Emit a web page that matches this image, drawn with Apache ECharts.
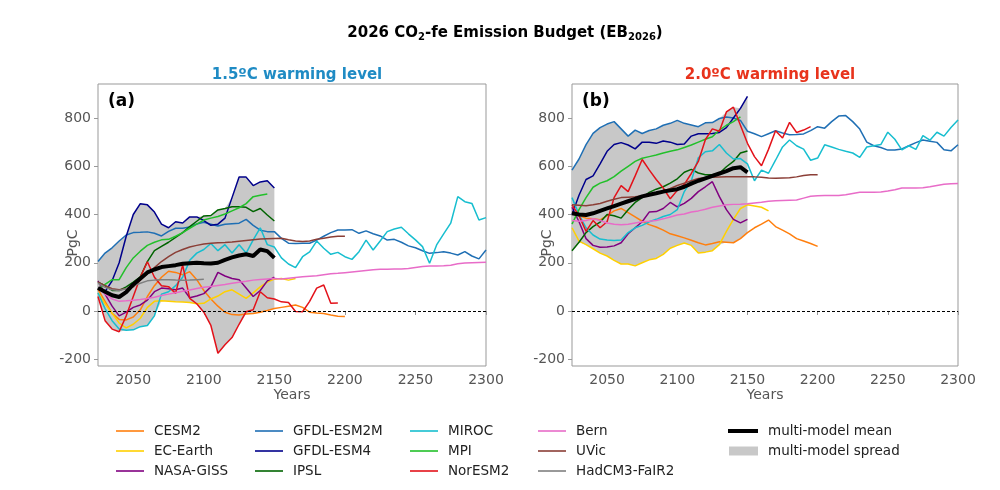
<!DOCTYPE html>
<html>
<head>
<meta charset="utf-8">
<script src="https://cdn.jsdelivr.net/npm/echarts@6/dist/echarts.min.js"></script>
<style>html,body{margin:0;padding:0;background:#fff}#c{width:1000px;height:490px}</style>
</head>
<body>
<div id="c"></div>
<script>
// ---- data (values every 5 years starting 2025) ----
const START_YEAR = 2025;
const STEP = 5;
const X_TICKS = [2050, 2100, 2150, 2200, 2250, 2300];
const Y_TICKS = [-200, 0, 200, 400, 600, 800];
const SPREAD_END = 2150;

// Panel (a): 1.5 ºC warming level
const A_CESM2 = [90,40,-10,-35,-37,-25,5,60,105,140,165,160,150,163,130,85,50,20,-5,-15,-17,-12,-10,-5,2,10,15,20,25,15,-5,-8,-10,-17,-22,-23];
const A_ECEARTH = [75,30,-10,-50,-70,-55,-30,15,40,42,40,38,37,35,30,32,50,62,80,88,70,52,75,100,120,132,135,128,135];
const A_NASAGISS = [125,70,20,-20,-5,15,25,45,80,95,92,88,95,55,62,72,100,160,145,135,130,95,60,85,125,140];
const A_ESM2M = [205,240,262,290,315,325,326,328,322,311,330,343,343,348,361,368,360,352,360,362,364,380,355,335,329,329,301,281,280,281,281,294,310,325,336,336,337,322,332,320,311,294,297,285,270,262,250,239,242,246,240,232,246,228,216,253];
const A_ESM4 = [95,80,125,200,310,400,445,440,410,360,345,370,365,390,390,375,355,360,385,470,555,555,520,535,540,510];
const A_IPSL = [120,105,85,85,100,120,142,205,250,268,285,305,325,350,372,394,396,419,425,432,432,430,412,425,398,373];
const A_MIROC = [75,10,-40,-75,-80,-78,-65,-60,-20,70,80,105,140,210,240,255,280,250,275,240,275,240,295,345,275,265,220,195,180,225,245,290,260,235,243,225,214,246,294,253,290,329,340,347,320,295,267,198,274,320,364,474,453,446,377,387];
const A_MPI = [90,110,130,130,180,220,248,272,285,295,297,310,325,343,360,377,385,392,402,415,428,445,474,480,485];
const A_NORESM2 = [60,-40,-75,-86,-20,60,140,204,140,105,101,73,191,52,30,-5,-60,-175,-140,-110,-55,-3,5,80,55,50,38,35,-2,-3,40,95,108,32,33];
const A_BERN = [95,70,50,40,42,45,48,52,57,64,70,76,82,87,93,98,102,106,110,115,119,123,128,131,133,135,133,136,139,142,144,146,150,154,156,159,162,165,168,171,173,173,174,174,176,180,184,187,187,188,190,196,199,200,201,202];
const A_UVIC = [120,105,92,88,92,100,128,155,180,205,225,243,255,265,272,278,281,283,284,286,289,292,295,298,300,301,302,295,290,288,290,297,302,307,310,310];
const A_HADCM3 = [115,98,88,85,92,105,115,125,128,130,130,128,127,128,130,132];
const A_MEAN = [95,80,65,58,78,110,135,160,172,182,186,190,196,198,200,198,197,200,212,222,230,235,228,255,248,220];

// Panel (b): 2.0 ºC warming level
const B_CESM2 = [410,395,385,382,378,395,415,425,408,390,372,358,348,335,320,312,303,293,283,274,280,287,285,283,300,325,345,360,377,350,335,320,300,290,280,268];
const B_ECEARTH = [345,290,275,258,240,228,210,195,195,187,200,212,218,235,260,272,282,272,240,244,250,275,330,380,425,440,435,430,415];
const B_NASAGISS = [430,370,300,272,264,265,270,283,320,345,370,410,412,425,450,432,446,467,495,515,536,474,420,380,365,380];
const B_ESM2M = [584,630,690,736,760,775,785,755,725,750,736,748,755,770,778,790,778,771,764,780,781,798,804,800,790,745,735,723,735,747,738,731,732,734,748,764,758,785,808,810,785,754,700,685,678,667,667,672,685,698,709,704,699,668,664,689];
const B_ESM4 = [400,480,545,560,610,662,690,698,688,672,700,700,695,705,700,690,692,725,735,735,736,740,760,800,840,890];
const B_IPSL = [250,285,325,350,368,400,395,385,420,450,470,492,505,515,530,548,575,587,572,565,565,571,598,620,655,663];
const B_MIROC = [470,400,345,315,298,294,292,294,325,345,355,370,380,392,400,420,495,540,635,660,664,690,655,630,632,610,540,584,571,625,680,709,685,671,625,634,689,680,670,662,655,637,680,685,690,741,712,668,685,670,727,708,741,725,761,792];
const B_MPI = [360,420,470,513,530,540,557,580,600,620,633,640,647,655,662,668,678,688,700,712,722,750,770,785,805];
const B_NORESM2 = [440,395,330,375,345,370,470,520,495,560,628,585,545,510,465,500,525,570,620,710,755,745,825,845,770,695,640,602,670,747,717,782,740,750,764];
const B_BERN = [375,372,375,382,375,365,360,358,360,365,370,372,375,382,390,398,402,410,415,422,430,435,440,442,443,445,448,451,455,457,458,459,460,468,476,478,479,479,479,482,487,492,492,492,493,497,503,510,510,510,511,515,520,525,527,529];
const B_UVIC = [440,438,436,440,446,455,463,470,472,474,477,481,488,497,508,520,530,540,549,552,554,555,556,557,557,557,556,554,551,550,551,552,556,562,565,565];
const B_MEAN = [405,400,398,405,415,425,435,445,455,465,475,482,488,495,500,505,515,528,540,550,560,570,580,592,596,575];

const COLORS = {
  'CESM2': '#ff7f0e',
  'EC-Earth': '#ffd000',
  'NASA-GISS': '#800080',
  'GFDL-ESM2M': '#1f6fb4',
  'GFDL-ESM4': '#00008b',
  'IPSL': '#006400',
  'MIROC': '#17becf',
  'MPI': '#22c02a',
  'NorESM2': '#e3121a',
  'Bern': '#e86cc8',
  'UVic': '#8b3e36',
  'HadCM3-FaIR2': '#808080'
};
const SPREAD_COLOR = '#c8c8c8';

const PANEL_A = [
  ['CESM2', A_CESM2], ['EC-Earth', A_ECEARTH], ['NASA-GISS', A_NASAGISS],
  ['GFDL-ESM2M', A_ESM2M], ['GFDL-ESM4', A_ESM4], ['IPSL', A_IPSL],
  ['MIROC', A_MIROC], ['MPI', A_MPI], ['NorESM2', A_NORESM2],
  ['Bern', A_BERN], ['UVic', A_UVIC], ['HadCM3-FaIR2', A_HADCM3]
];
const PANEL_B = [
  ['CESM2', B_CESM2], ['EC-Earth', B_ECEARTH], ['NASA-GISS', B_NASAGISS],
  ['GFDL-ESM2M', B_ESM2M], ['GFDL-ESM4', B_ESM4], ['IPSL', B_IPSL],
  ['MIROC', B_MIROC], ['MPI', B_MPI], ['NorESM2', B_NORESM2],
  ['Bern', B_BERN], ['UVic', B_UVIC]
];

// ---- build ----
const FONT = 'DejaVu Sans';
const yearOf = i => START_YEAR + STEP * i;
const pairs = vals => vals.map((v, i) => [yearOf(i), v]);

// multi-model spread = min/max envelope of the models up to SPREAD_END
function spread(models) {
  const lo = [], hi = [];
  for (let i = 0; yearOf(i) <= SPREAD_END; i++) {
    const vs = models.map(m => m[1][i]).filter(v => v !== undefined);
    lo.push([yearOf(i), Math.min(...vs)]);
    hi.push([yearOf(i), Math.max(...vs)]);
  }
  return { lo, hi };
}

const series = [];
function addPanel(p, models, mean) {
  const sp = spread(models);
  series.push({
    name: 'multi-model spread', type: 'custom', xAxisIndex: p, yAxisIndex: p,
    data: sp.hi, encode: { x: 0, y: 1 }, silent: true, z: 1,
    itemStyle: { color: SPREAD_COLOR }, color: SPREAD_COLOR,
    renderItem: (params, api) => {
      if (params.dataIndex !== 0) return null;
      const pts = sp.hi.map(q => api.coord(q)).concat(sp.lo.slice().reverse().map(q => api.coord(q)));
      return { type: 'polygon', shape: { points: pts }, style: { fill: SPREAD_COLOR } };
    }
  });
  series.push({
    name: 'zero', type: 'line', xAxisIndex: p, yAxisIndex: p, data: [], z: 2,
    markLine: {
      silent: true, symbol: 'none', label: { show: false },
      lineStyle: { color: '#000', width: 1, type: [3, 2] },
      data: [{ yAxis: 0 }]
    }
  });
  models.forEach(([name, vals]) => {
    series.push({
      name, type: 'line', xAxisIndex: p, yAxisIndex: p, data: pairs(vals),
      symbol: 'none', color: COLORS[name], lineStyle: { width: 1.5, color: COLORS[name] }, z: 3
    });
  });
  series.push({
    name: 'multi-model mean', type: 'line', xAxisIndex: p, yAxisIndex: p, data: pairs(mean),
    symbol: 'none', color: '#000', lineStyle: { width: 4, color: '#000' }, z: 4
  });
}
addPanel(0, PANEL_A, A_MEAN);
addPanel(1, PANEL_B, B_MEAN);

const tickColor = '#555';
function xAxis(i) {
  return {
    type: 'value', gridIndex: i, min: 2025, max: 2300,
    axisLine: { show: false },
    splitLine: { show: false },
    axisTick: { show: true, customValues: X_TICKS, length: 4, lineStyle: { color: '#999' } },
    axisLabel: { customValues: X_TICKS, formatter: v => String(v), fontSize: 14, color: tickColor, fontFamily: FONT, margin: 7 },
    name: 'Years', nameLocation: 'middle', nameGap: 22, nameMoveOverlap: false,
    nameTextStyle: { fontSize: 14, color: tickColor, fontFamily: FONT }
  };
}
function yAxis(i) {
  return {
    type: 'value', gridIndex: i, min: -228, max: 941,
    axisLine: { show: false },
    splitLine: { show: false },
    axisTick: { show: true, customValues: Y_TICKS, length: 4, lineStyle: { color: '#999' } },
    axisLabel: { customValues: Y_TICKS, formatter: v => String(v), fontSize: 14, color: tickColor, fontFamily: FONT, margin: 7 },
    name: 'PgC', nameLocation: 'middle', nameGap: 18, nameRotate: 90, nameMoveOverlap: false,
    nameTextStyle: { fontSize: 14, color: tickColor, fontFamily: FONT, padding: [0, 0, 0, -36] }
  };
}

const legendBase = {
  orient: 'vertical', top: 419, itemWidth: 28, itemHeight: 1.6, itemGap: 6, icon: 'rect',
  selectedMode: false,
  textStyle: { fontSize: 13.5, color: '#222', fontFamily: FONT, lineHeight: 14, padding: [0, 0, 0, 5] }
};
const legends = [
  Object.assign({}, legendBase, { left: 111, data: ['CESM2', 'EC-Earth', 'NASA-GISS'] }),
  Object.assign({}, legendBase, { left: 250, data: ['GFDL-ESM2M', 'GFDL-ESM4', 'IPSL'] }),
  Object.assign({}, legendBase, { left: 405, data: ['MIROC', 'MPI', 'NorESM2'] }),
  Object.assign({}, legendBase, { left: 533, data: ['Bern', 'UVic', 'HadCM3-FaIR2'] }),
  Object.assign({}, legendBase, { left: 723, itemWidth: 30, itemHeight: 4, data: ['multi-model mean'] }),
  Object.assign({}, legendBase, { left: 724, top: 439, itemWidth: 29, itemHeight: 9,
    data: [{ name: 'multi-model spread', icon: 'rect', itemStyle: { color: SPREAD_COLOR } }] })
];

const chart = echarts.init(document.getElementById('c'), null, { renderer: 'canvas' });
chart.setOption({
  backgroundColor: '#fff',
  animation: false,
  textStyle: { fontFamily: FONT },
  title: [
    {
      left: 500, top: 17, textAlign: 'center',
      text: '{t|2026 CO}{s|2}{t|-fe Emission Budget (EB}{s|2026}{t|)}',
      textStyle: {
        rich: {
          t: { fontSize: 15, fontWeight: 'bold', color: '#000', fontFamily: FONT, lineHeight: 22, verticalAlign: 'middle' },
          s: { fontSize: 10, fontWeight: 'bold', color: '#000', fontFamily: FONT, lineHeight: 22, verticalAlign: 'middle', padding: [9, 0, 0, 0] }
        }
      }
    },
    { left: 292, top: 63, textAlign: 'center', text: '1.5ºC warming level',
      textStyle: { fontSize: 15, fontWeight: 'bold', color: '#1f8bc4', fontFamily: FONT } },
    { left: 765, top: 63, textAlign: 'center', text: '2.0ºC warming level',
      textStyle: { fontSize: 15, fontWeight: 'bold', color: '#e8331c', fontFamily: FONT } },
    { left: 103, top: 88, text: '(a)', textStyle: { fontSize: 17, fontWeight: 'bold', color: '#000', fontFamily: FONT } },
    { left: 577, top: 88, text: '(b)', textStyle: { fontSize: 17, fontWeight: 'bold', color: '#000', fontFamily: FONT } }
  ],
  legend: legends,
  grid: [
    { left: 98, right: 514, top: 84, bottom: 124, show: true, borderColor: '#999', borderWidth: 1, backgroundColor: 'transparent' },
    { left: 572, right: 42, top: 84, bottom: 124, show: true, borderColor: '#999', borderWidth: 1, backgroundColor: 'transparent' }
  ],
  xAxis: [xAxis(0), xAxis(1)],
  yAxis: [yAxis(0), yAxis(1)],
  series
});
</script>
</body>
</html>
